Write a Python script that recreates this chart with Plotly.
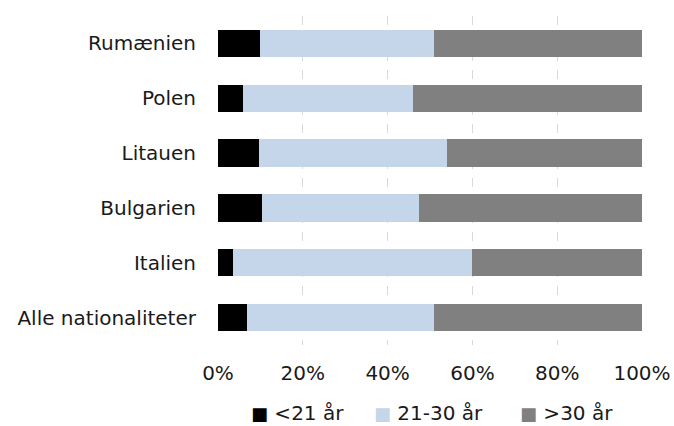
import plotly.graph_objects as go

categories = ["Alle nationaliteter", "Italien", "Bulgarien", "Litauen", "Polen", "Rumænien"]
under21 = [6.9, 3.5, 10.3, 9.7, 6.0, 10.0]
age21_30 = [44.1, 56.3, 37.2, 44.3, 40.0, 41.0]
over30 = [49.0, 40.2, 52.5, 46.0, 54.0, 49.0]
series_names = ["<21 år", "21-30 år", ">30 år"]
series_colors = ["#000000", "#C5D5EA", "#808080"]
tick_vals = [0, 20, 40, 60, 80, 100]
tick_text = ["0%", "20%", "40%", "60%", "80%", "100%"]

fig = go.Figure()
for name, vals, col in zip(series_names, [under21, age21_30, over30], series_colors):
    fig.add_trace(go.Bar(
        y=categories, x=vals, name=name, orientation="h",
        marker=dict(color=col, line=dict(width=0)),
        showlegend=False,
    ))

font = dict(family="DejaVu Sans", size=20, color="#1a1a1a")

# Legend drawn as text entries under the plot
legend_x = [0.075, 0.365, 0.709]
for name, col, lx in zip(series_names, series_colors, legend_x):
    safe = name.replace("<", "&lt;").replace(">", "&gt;")
    fig.add_annotation(
        xref="paper", yref="paper", x=lx, y=-0.208, xanchor="left", yanchor="middle",
        text=f"<span style='color:{col};font-size:18px'>■</span> {safe}",
        showarrow=False, font=font, borderpad=0,
    )

fig.update_layout(
    barmode="stack",
    bargap=0.5,
    width=674, height=426,
    margin=dict(l=218, r=32, t=16, b=81),
    paper_bgcolor="white", plot_bgcolor="white",
    font=font,
    showlegend=False,
    xaxis=dict(range=[0, 100], tickvals=tick_vals, ticktext=tick_text,
               showgrid=True, gridcolor="#D9D9D9", griddash="dash", gridwidth=1,
               zeroline=False, showline=False, ticks="", ticklabelstandoff=14,
               automargin=False, fixedrange=True),
    yaxis=dict(categoryorder="array", categoryarray=categories, showgrid=False,
               zeroline=False, showline=False, ticks="", ticklabelstandoff=21,
               automargin=False, fixedrange=True),
)
fig.write_html("out.html",
               config={"displayModeBar": False, "staticPlot": True},
               post_script="document.body.style.margin='0';document.body.style.overflow='hidden';")
